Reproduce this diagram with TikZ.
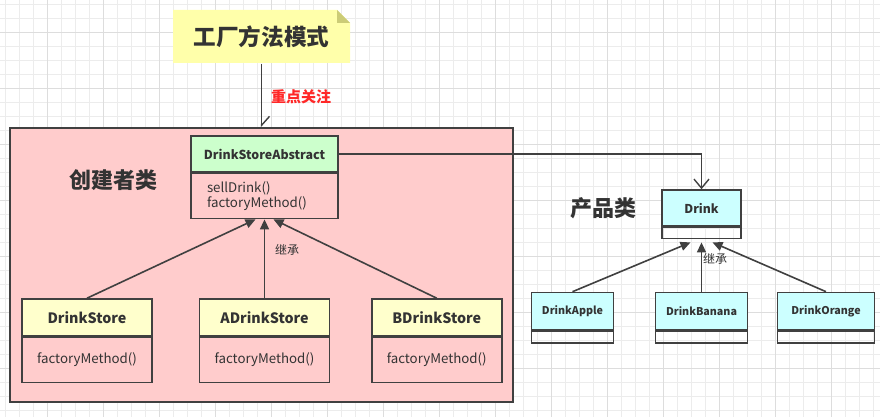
\documentclass[tikz,border=0pt]{standalone}
\usepackage{fontspec}
\setmainfont{Noto Sans CJK SC}
\newfontfamily\cjk{Noto Sans CJK SC}
\usepackage{xcolor}
\usepackage{tikz}
\usetikzlibrary{arrows.meta, positioning, calc}
\definecolor{umlline}{RGB}{64,64,64}
\definecolor{umltext}{RGB}{51,51,51}
\definecolor{umlpink}{RGB}{255,204,204}
\definecolor{umlgreen}{RGB}{204,255,204}
\definecolor{umlyellow}{RGB}{255,255,204}
\definecolor{umlcyan}{RGB}{204,255,255}
\definecolor{notefill}{RGB}{255,255,170}
\definecolor{notefold}{RGB}{204,204,119}
\definecolor{focusred}{RGB}{255,40,40}
\definecolor{gridminor}{RGB}{236,236,236}
\definecolor{gridmajor}{RGB}{221,221,221}

\begin{document}
\begin{tikzpicture}[x=1pt,y=-1pt,
  clshead/.style={draw=umlline,line width=1.6pt,inner sep=0pt,text=umltext},
  clsbody/.style={draw=umlline,line width=1.6pt,inner sep=0pt,text=umltext,
    font=\fontsize{13.3}{15}\selectfont},
  grouplabel/.style={text=umltext,font=\cjk\bfseries\fontsize{22}{24}\selectfont},
  inherit/.style={draw=umlline,line width=1.6pt,-{Triangle[length=10pt,width=9pt]}},
  assoc/.style={draw=umlline,line width=1.4pt,-{Straight Barb[length=9pt,width=15pt]}},
  edgelabel/.style={text=umltext,font=\cjk\fontsize{12}{14}\selectfont}]
\useasboundingbox (0,0) rectangle (880,417);
\fill[white] (0,0) rectangle (880,417);
% background grid
\foreach \gx in {5,19,...,880} \draw[gridminor,line width=0.8pt] (\gx,0) -- (\gx,417);
\foreach \gy in {4.5,18.5,...,417} \draw[gridminor,line width=0.8pt] (0,\gy) -- (880,\gy);
\foreach \gx in {47,103,...,880} \draw[gridmajor,line width=0.8pt] (\gx,0) -- (\gx,417);
\foreach \gy in {32.5,88.5,...,417} \draw[gridmajor,line width=0.8pt] (0,\gy) -- (880,\gy);

% note
\fill[notefill] (173,63) -- (173,10) -- (337,10) -- (350,23) -- (350,63) -- cycle;
\fill[notefold] (337,10) -- (350,23) -- (337,23) -- cycle;
\node[text=umltext,font=\cjk\bfseries\fontsize{22.6}{26}\selectfont,
  minimum width=177pt,minimum height=53pt,inner sep=0pt] (note) at (261.5,37) {工厂方法模式};

% creator group
\node[draw=umlline,fill=umlpink,line width=1.6pt,minimum width=503pt,
  minimum height=274pt,inner sep=0pt] (creator) at (261.5,265) {};
\node[grouplabel] (creatorlbl) at (113,180) {创建者类};
\draw[umlline,line width=1.4pt,-{Straight Barb[left,length=9pt,width=16pt]}] (note.south) -- (creator.north);
\node[text=focusred,font=\cjk\bfseries\fontsize{15}{17}\selectfont] (focus) at (301,97) {重点关注};

% abstract creator
\node[clshead,fill=umlgreen,minimum width=147pt,minimum height=36pt,
  font=\bfseries\fontsize{12.4}{14}\selectfont] (dsa) at (264.5,154) {DrinkStoreAbstract};
\node[clsbody,minimum width=147pt,minimum height=45pt,text width=115pt,align=left,
  below=0pt of dsa] (dsab) {sellDrink()\\factoryMethod()};

% concrete creators
\node[clshead,fill=umlyellow,minimum width=130pt,minimum height=37pt,
  font=\bfseries\fontsize{14.3}{16}\selectfont] (ds) at (87,317.5) {DrinkStore};
\node[clsbody,minimum width=130pt,minimum height=45pt,below=0pt of ds] (dsb) {factoryMethod()};
\node[clshead,fill=umlyellow,minimum width=130pt,minimum height=37pt,
  font=\bfseries\fontsize{14.3}{16}\selectfont] (ads) at (264.5,317.5) {ADrinkStore};
\node[clsbody,minimum width=130pt,minimum height=45pt,below=0pt of ads] (adsb) {factoryMethod()};
\node[clshead,fill=umlyellow,minimum width=130pt,minimum height=37pt,
  font=\bfseries\fontsize{14.3}{16}\selectfont] (bds) at (436.7,317.5) {BDrinkStore};
\node[clsbody,minimum width=130pt,minimum height=45pt,below=0pt of bds] (bdsb) {factoryMethod()};

\draw[inherit] (ds.north) -- ([xshift=-9pt]dsab.south);
\draw[inherit] (ads.north) -- (dsab.south);
\draw[inherit] (bds.north) -- ([xshift=9pt]dsab.south);
\node[edgelabel] (creatorinh) at (287,250) {继承};

% products
\node[grouplabel] (productlbl) at (603,208) {产品类};
\node[clshead,fill=umlcyan,minimum width=79pt,minimum height=36pt,
  font=\bfseries\fontsize{12.2}{14}\selectfont] (drink) at (701.5,208) {Drink};
\node[clsbody,minimum width=79pt,minimum height=11pt,below=0pt of drink] (drinkb) {};
\draw[assoc] (dsa.east) -| (drink.north);

\node[clshead,fill=umlcyan,minimum width=82pt,minimum height=37pt,
  font=\bfseries\fontsize{10.7}{13}\selectfont] (apple) at (572.5,311) {DrinkApple};
\node[clsbody,minimum width=82pt,minimum height=12pt,below=0pt of apple] (appleb) {};
\node[clshead,fill=umlcyan,minimum width=92pt,minimum height=37pt,
  font=\bfseries\fontsize{10.7}{13}\selectfont] (banana) at (701.5,311) {DrinkBanana};
\node[clsbody,minimum width=92pt,minimum height=12pt,below=0pt of banana] (bananab) {};
\node[clshead,fill=umlcyan,minimum width=97pt,minimum height=37pt,
  font=\bfseries\fontsize{10.7}{13}\selectfont] (orange) at (826,311) {DrinkOrange};
\node[clsbody,minimum width=97pt,minimum height=12pt,below=0pt of orange] (orangeb) {};

\draw[inherit] (apple.north) -- ([xshift=-11pt,yshift=-3pt]drinkb.south);
\draw[inherit] (banana.north) -- ([yshift=-3pt]drinkb.south);
\draw[inherit] (orange.north) -- ([xshift=11pt,yshift=-3pt]drinkb.south);
\node[edgelabel] (productinh) at (715,259) {继承};
\end{tikzpicture}
\end{document}
